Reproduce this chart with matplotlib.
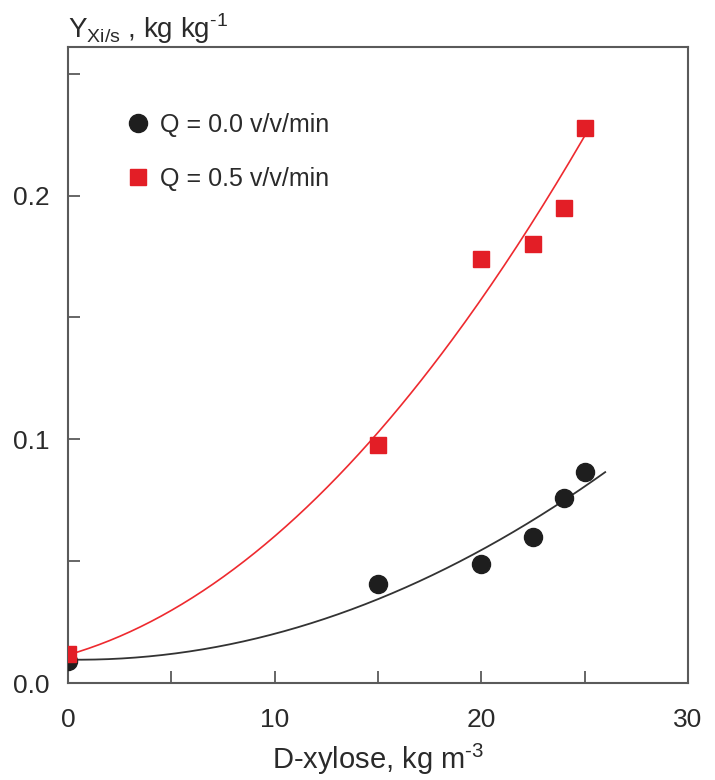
import numpy as np
import matplotlib
matplotlib.use("Agg")
import matplotlib.pyplot as plt
from matplotlib.ticker import MultipleLocator, FormatStrFormatter

plt.rcParams['font.family'] = ['Liberation Sans', 'DejaVu Sans']
plt.rcParams['mathtext.fontset'] = 'custom'
plt.rcParams['mathtext.rm'] = 'Liberation Sans'

xylose = [0, 15, 20, 22.5, 24, 25]
y_q00 = [0.009, 0.0407, 0.0489, 0.060, 0.076, 0.0867]
y_q05 = [0.0119, 0.0977, 0.174, 0.180, 0.195, 0.2275]
labels = ["Q = 0.0 v/v/min", "Q = 0.5 v/v/min"]

fig = plt.figure(figsize=(7.15, 7.8), dpi=100)
ax = fig.add_axes([0.095, 0.124, 0.867, 0.816])

frame = '#5a5a5a'
txt = '#2a2a2a'

# fitted trend curves (from data)
c0 = np.polyfit(xylose, y_q00, 2)
c5 = np.polyfit(xylose, y_q05, 2, w=[1, 1, 1, 1, 1, 2])
xf0 = np.linspace(0, 26, 200)
xf5 = np.linspace(0, 25, 200)
ax.plot(xf0, np.polyval(c0, xf0), color='#333333', lw=1.3, zorder=2)
ax.plot(xf5, np.polyval(c5, xf5), color='#ee2a2f', lw=1.2, zorder=2)

ax.plot(xylose, y_q00, 'o', color='#1e1e1e', ms=13, zorder=3, label=labels[0])
ax.plot(xylose, y_q05, 's', color='#e31e26', ms=12, zorder=4, label=labels[1])

ax.set_xlim(0, 30)
ax.set_ylim(0, 0.261)
ax.xaxis.set_major_locator(MultipleLocator(10))
ax.xaxis.set_minor_locator(MultipleLocator(5))
ax.yaxis.set_major_locator(MultipleLocator(0.1))
ax.yaxis.set_minor_locator(MultipleLocator(0.05))
ax.yaxis.set_major_formatter(FormatStrFormatter('%.1f'))
ax.tick_params(which='both', direction='in', color=frame, width=1.3,
               length=8.6, labelsize=19, labelcolor=txt)
ax.tick_params(axis='y', which='major', pad=13)
ax.tick_params(axis='x', which='major', pad=18)
for s in ax.spines.values():
    s.set_color(frame)
    s.set_linewidth(1.5)

ax.set_xlabel(r'D-xylose, kg m$^{\text{-3}}$', fontsize=21, color=txt, labelpad=7)
fig.text(0.095, 0.951, r'Y$_{\mathregular{Xi/s}}$ , kg kg$^{\text{-1}}$',
         fontsize=20, color=txt, ha='left', va='baseline')

leg = ax.legend(loc='upper left', bbox_to_anchor=(0.056, 0.931), frameon=False,
                fontsize=18, handlelength=1.0, handletextpad=0.4, labelspacing=1.2,
                numpoints=1, labelcolor=txt)

fig.savefig('out.png', dpi=100)
